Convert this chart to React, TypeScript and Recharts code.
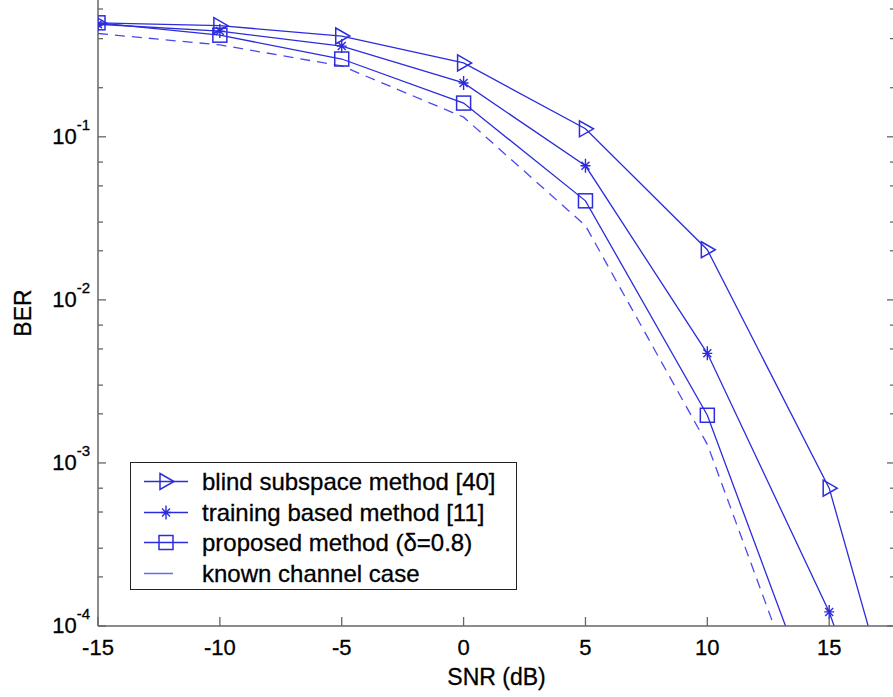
import React from 'react';
import { LineChart, Line, XAxis, YAxis, Legend } from 'recharts';

// SNR points (dB) and BER values
const snr = [-15, -10, -5, 0, 5, 10, 15, 20];
const blindBer = [0.5, 0.48, 0.415, 0.284, 0.112, 0.0203, 7.0e-4, 1.6e-6];
const trainingBer = [0.49, 0.445, 0.36, 0.214, 0.0664, 4.7e-3, 1.22e-4, 9e-7];
const proposedBer = [0.5, 0.42, 0.3, 0.161, 0.0405, 1.96e-3, 1.9e-5, null];
const knownBer = [0.43, 0.366, 0.272, 0.132, 0.0285, 1.3e-3, 1.2e-5, null];

const xTicks = [-15, -10, -5, 0, 5, 10, 15];
const majorExp = [-4, -3, -2, -1];

const yTicks: number[] = [];
majorExp.forEach((e) => {
  for (let m = 1; m <= 9; m++) {
    const v = Number((m * Math.pow(10, e)).toPrecision(3));
    if (v <= 0.7) yTicks.push(v);
  }
});

const data = snr.map((s, i) => ({
  snr: s,
  blind: blindBer[i],
  training: trainingBer[i],
  proposed: proposedBer[i],
  known: knownBer[i],
}));

const BLUE = '#2c2cdc';
const AXIS = '#666';
const FONT = '"Liberation Sans", Arial, sans-serif';
const INK = '#000';

const isMajor = (v: number) => majorExp.some((e) => Math.abs(v - Math.pow(10, e)) < Math.pow(10, e) * 1e-6);

const Triangle = ({ cx, cy }: any) =>
  cx == null || cy == null ? null : (
    <path d={`M${cx - 6},${cy - 8} L${cx + 8},${cy} L${cx - 6},${cy + 8} Z`} fill="none" stroke={BLUE} strokeWidth={1.5} />
  );

const Star = ({ cx, cy }: any) =>
  cx == null || cy == null ? null : (
    <path
      d={`M${cx},${cy - 7} L${cx},${cy + 7} M${cx - 5},${cy} L${cx + 5},${cy} M${cx - 4},${cy - 4} L${cx + 4},${cy + 4} M${cx - 4},${cy + 4} L${cx + 4},${cy - 4}`}
      stroke={BLUE}
      strokeWidth={1.4}
    />
  );

const Square = ({ cx, cy }: any) =>
  cx == null || cy == null ? null : (
    <rect x={cx - 7} y={cy - 7} width={14} height={14} fill="none" stroke={BLUE} strokeWidth={1.5} />
  );

const BottomTick = ({ x, y, payload }: any) => (
  <g>
    <line x1={x} y1={y} x2={x} y2={y - 9} stroke={AXIS} strokeWidth={1.3} />
    <text x={x} y={y + 29} textAnchor="middle" fontSize={22} fontFamily={FONT} fill={INK} stroke={INK} strokeWidth={0.3}>
      {payload.value}
    </text>
  </g>
);

const TopTick = ({ x, y }: any) => <line x1={x} y1={y} x2={x} y2={y + 9} stroke={AXIS} strokeWidth={1.3} />;

const LeftTick = ({ x, y, payload }: any) => {
  const major = isMajor(payload.value);
  const exp = Math.round(Math.log10(payload.value));
  return (
    <g>
      <line x1={x} y1={y} x2={x + (major ? 8 : 5)} y2={y} stroke={AXIS} strokeWidth={1.3} />
      {major && (
        <text x={x - 8} y={y + 7} textAnchor="end" fontFamily={FONT} fill={INK} stroke={INK} strokeWidth={0.3}>
          <tspan fontSize={22}>10</tspan>
          <tspan fontSize={15} dy={-14}>
            {exp}
          </tspan>
        </text>
      )}
    </g>
  );
};

const RightTick = ({ x, y, payload }: any) => {
  const major = isMajor(payload.value);
  return <line x1={x} y1={y} x2={x - (major ? 8 : 5)} y2={y} stroke={AXIS} strokeWidth={1.3} />;
};

const legendRows = [
  { label: 'blind subspace method [40]', icon: 'tri' },
  { label: 'training based method [11]', icon: 'star' },
  { label: 'proposed method (\u03b4=0.8)', icon: 'sq' },
  { label: 'known channel case', icon: 'dash' },
];

const LegendBox = () => (
  <div
    style={{
      width: 385,
      height: 126,
      border: '1.5px solid #222',
      background: '#fff',
      position: 'relative',
      fontFamily: FONT,
      fontSize: 24,
      color: INK,
      WebkitTextStroke: '0.3px #000',
    }}
  >
    {legendRows.map((r, i) => (
      <div key={r.label} style={{ position: 'absolute', left: 0, top: 3 + i * 30.7, height: 31, width: 385 }}>
        <svg width={70} height={31} style={{ position: 'absolute', left: 0, top: 0 }}>
          {r.icon === 'dash' ? (
            <line x1={13} y1={15.5} x2={42} y2={15.5} stroke="#6a6aee" strokeWidth={1.5} />
          ) : (
            <line x1={13} y1={15.5} x2={57} y2={15.5} stroke={BLUE} strokeWidth={1.3} />
          )}
          {r.icon === 'tri' && <Triangle cx={35} cy={15.5} />}
          {r.icon === 'star' && <Star cx={35} cy={15.5} />}
          {r.icon === 'sq' && <Square cx={35} cy={15.5} />}
        </svg>
        <span style={{ position: 'absolute', left: 71, top: 0, lineHeight: '31px', whiteSpace: 'nowrap' }}>{r.label}</span>
      </div>
    ))}
  </div>
);

const BerLabel = () => (
  <text x={31} y={313} transform="rotate(-90 31 313)" textAnchor="middle" fontSize={23} fontFamily={FONT} fill={INK} stroke={INK} strokeWidth={0.3}>
    BER
  </text>
);

export default function App() {
  return (
    <div style={{ position: 'fixed', left: 0, top: 0, width: 893, height: 697, overflow: 'hidden', background: '#fff' }}>
      <LineChart width={900} height={697} data={data} margin={{ top: -1, right: 0, bottom: 41, left: 0 }}>
        <XAxis
          dataKey="snr"
          type="number"
          domain={[-15, 17.7]}
          ticks={xTicks}
          allowDataOverflow
          height={30}
          tickSize={0}
          tickMargin={0}
          tickLine={false}
          tick={<BottomTick />}
          axisLine={{ stroke: AXIS, strokeWidth: 1.5 }}
          label={{ value: 'SNR (dB)', position: 'bottom', offset: 13, fontSize: 23, fontFamily: FONT, fill: INK, stroke: INK, strokeWidth: 0.3 }}
        />
        <XAxis
          xAxisId="top"
          orientation="top"
          dataKey="snr"
          type="number"
          domain={[-15, 17.7]}
          ticks={xTicks}
          allowDataOverflow
          height={0}
          tickSize={0}
          tickMargin={0}
          tickLine={false}
          tick={<TopTick />}
          axisLine={{ stroke: AXIS, strokeWidth: 1.5 }}
        />
        <YAxis
          scale="log"
          type="number"
          domain={[1e-4, 0.7]}
          ticks={yTicks}
          allowDataOverflow
          width={98}
          tickSize={0}
          tickMargin={0}
          tickLine={false}
          tick={<LeftTick />}
          axisLine={{ stroke: AXIS, strokeWidth: 1.5 }}
          label={<BerLabel />}
        />
        <YAxis
          yAxisId="right"
          orientation="right"
          scale="log"
          type="number"
          domain={[1e-4, 0.7]}
          ticks={yTicks}
          allowDataOverflow
          width={5}
          tickSize={0}
          tickMargin={0}
          tickLine={false}
          tick={<RightTick />}
          axisLine={{ stroke: AXIS, strokeWidth: 1.5 }}
        />
        <Legend
          layout="vertical"
          align="center"
          verticalAlign="middle"
          content={<LegendBox />}
          wrapperStyle={{ left: 130, top: 462, width: 388, height: 129 }}
        />
        <Line dataKey="blind" stroke={BLUE} strokeWidth={1.3} dot={<Triangle />} isAnimationActive={false} />
        <Line dataKey="training" stroke={BLUE} strokeWidth={1.3} dot={<Star />} isAnimationActive={false} />
        <Line dataKey="proposed" stroke={BLUE} strokeWidth={1.3} dot={<Square />} isAnimationActive={false} />
        <Line dataKey="known" stroke="#4a4aee" strokeWidth={1.3} strokeDasharray="10 7" dot={false} isAnimationActive={false} />
      </LineChart>
    </div>
  );
}
